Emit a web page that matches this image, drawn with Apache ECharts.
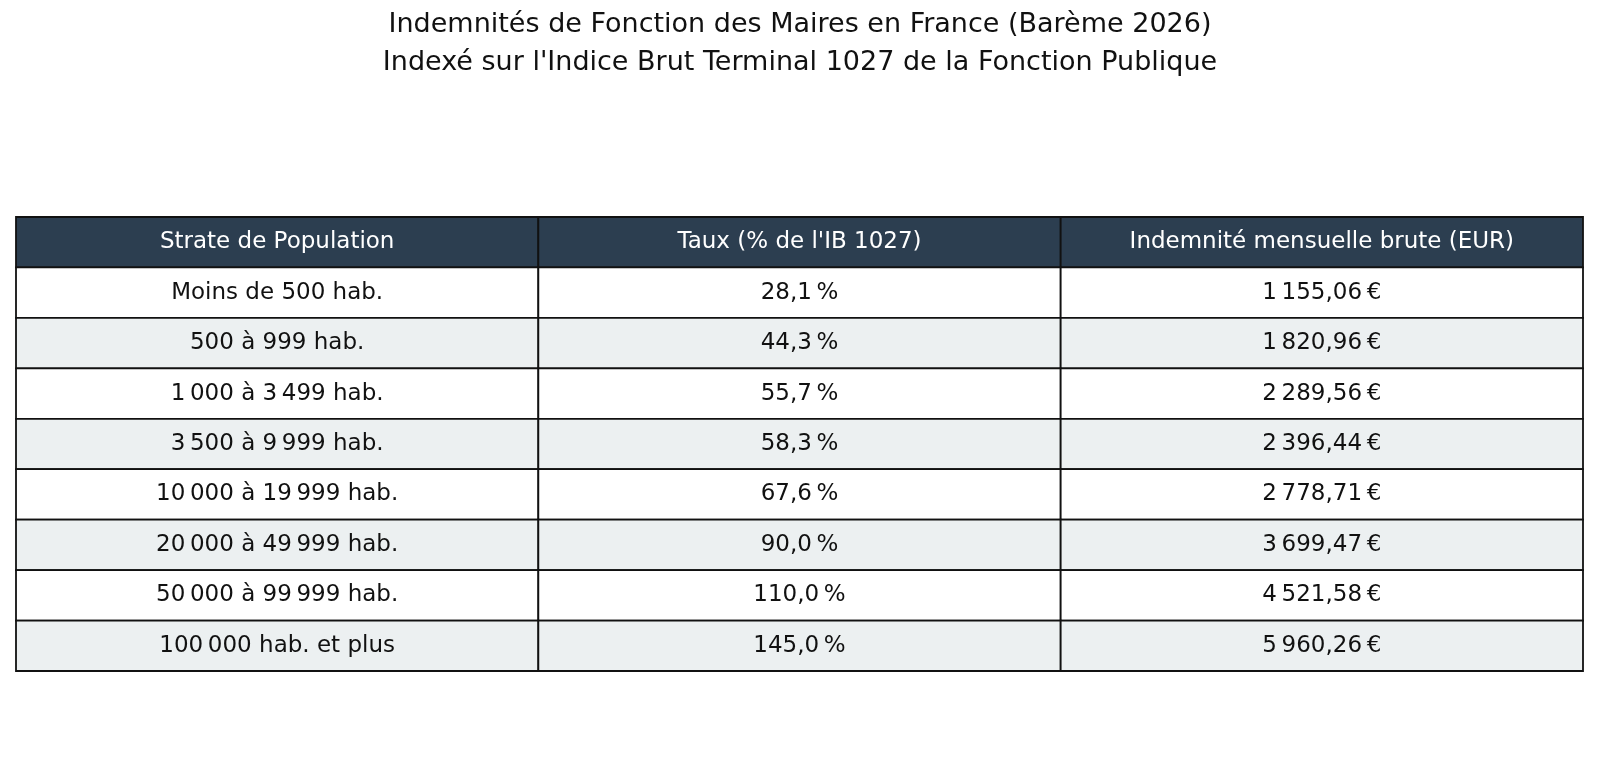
<!DOCTYPE html>
<html><head><meta charset="utf-8">
<script src="https://cdn.jsdelivr.net/npm/echarts@6/dist/echarts.min.js"></script>
<style>html,body{margin:0;padding:0;background:#fff}#c{width:1600px;height:784px}</style>
</head><body><div id="c"></div>
<script>
var headers = ["Strate de Population", "Taux (% de l'IB 1027)", "Indemnité mensuelle brute (EUR)"];
var strata = ["Moins de 500 hab.", "500 à 999 hab.", "1\u202f000 à 3\u202f499 hab.", "3\u202f500 à 9\u202f999 hab.", "10\u202f000 à 19\u202f999 hab.", "20\u202f000 à 49\u202f999 hab.", "50\u202f000 à 99\u202f999 hab.", "100\u202f000 hab. et plus"];
var taux = ["28,1\u202f%", "44,3\u202f%", "55,7\u202f%", "58,3\u202f%", "67,6\u202f%", "90,0\u202f%", "110,0\u202f%", "145,0\u202f%"];
var indemnites = ["1\u202f155,06\u202f€", "1\u202f820,96\u202f€", "2\u202f289,56\u202f€", "2\u202f396,44\u202f€", "2\u202f778,71\u202f€", "3\u202f699,47\u202f€", "4\u202f521,58\u202f€", "5\u202f960,26\u202f€"];

var rows = [headers];
for (var i = 0; i < strata.length; i++) rows.push([strata[i], taux[i], indemnites[i]]);
var data = [];
rows.forEach(function (r, ri) { r.forEach(function (t, ci) { data.push({ value: [ci, ri], text: t }); }); });

var chart = echarts.init(document.getElementById('c'));
var FONT = "'DejaVu Sans', sans-serif";
chart.setOption({
  animation: false,
  title: {
    text: "Indemnités de Fonction des Maires en France (Barème 2026)\nIndexé sur l'Indice Brut Terminal 1027 de la Fonction Publique",
    left: 'center', top: 1,
    textStyle: { fontFamily: FONT, fontSize: 27, fontWeight: 'normal', color: '#111', lineHeight: 38 }
  },
  grid: { left: 16, right: 17, top: 217, bottom: 113 },
  xAxis: { type: 'category', data: [0, 1, 2], show: false },
  yAxis: { type: 'category', data: rows.map(function (r, i) { return i; }), inverse: true, show: false },
  series: [{
    type: 'custom',
    data: data,
    renderItem: function (params, api) {
      var c = api.coord([api.value(0), api.value(1)]);
      var s = api.size([1, 1]);
      var ri = api.value(1);
      var item = data[params.dataIndex];
      var fill = ri === 0 ? '#2c3e50' : (ri % 2 === 1 ? '#ffffff' : '#ecf0f1');
      return {
        type: 'group',
        children: [{
          type: 'rect',
          shape: { x: c[0] - s[0] / 2, y: c[1] - s[1] / 2, width: s[0], height: s[1] },
          style: { fill: fill, stroke: '#111', lineWidth: 1.8 }
        }, {
          type: 'text',
          style: {
            x: c[0], y: c[1], text: item.text, align: 'center', verticalAlign: 'middle',
            fill: ri === 0 ? '#ffffff' : '#111111', font: '23px ' + FONT
          }
        }]
      };
    }
  }]
});
</script></body></html>
